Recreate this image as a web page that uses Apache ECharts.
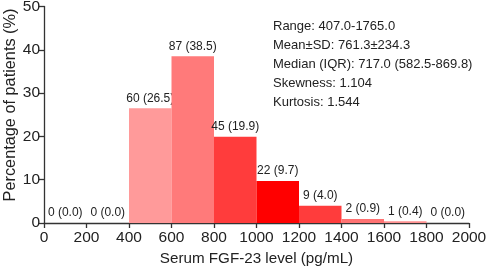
<!DOCTYPE html>
<html lang="en">

<head>
  <script src="https://cdn.jsdelivr.net/npm/echarts@6.0.0/dist/echarts.min.js"></script>
  <meta charset="UTF-8">
</head>

<body style="margin:0">
  <div id="histChart" style="width: 489px;height:270px;"></div>

  <script type="text/javascript">

    // bins of 200 pg/mL
    var binStarts = [0, 200, 400, 600, 800, 1000, 1200, 1400, 1600, 1800];
    var counts = [0, 0, 60, 87, 45, 22, 9, 2, 1, 0];
    var percents = [0.0, 0.0, 26.5, 38.5, 19.9, 9.7, 4.0, 0.9, 0.4, 0.0];
    var statLines = [
        'Range: 407.0-1765.0',
        'Mean\u00b1SD: 761.3\u00b1234.3',
        'Median (IQR): 717.0 (582.5-869.8)',
        'Skewness: 1.104',
        'Kurtosis: 1.544'
    ];

    var binWidth = 200;
    var barColors = ['#ff9a9a', '#ff9a9a', '#ff9a9a', '#ff7a7a', '#ff3c3c', '#ff0000', '#ff3c3c', '#ff7272', '#ff9090', '#ff9a9a'];
    var font = 'Liberation Sans, Arial, sans-serif';

    function createHistogram() {
        const chart = echarts.init(document.getElementById('histChart'));

        const seriesData = binStarts.map((s, i) => [s, s + binWidth, percents[i], counts[i]]);

        const renderBar = function (params, api) {
            const start = api.coord([api.value(0), 0]);
            const end = api.coord([api.value(1), api.value(2)]);
            const idx = params.dataIndex;
            const label = api.value(3) + ' (' + api.value(2).toFixed(1) + ')';
            return {
                type: 'group',
                children: [
                    {
                        type: 'rect',
                        shape: { x: start[0], y: end[1], width: end[0] - start[0], height: start[1] - end[1] },
                        style: { fill: barColors[idx] }
                    },
                    {
                        type: 'text',
                        style: {
                            text: label,
                            x: (start[0] + end[0]) / 2,
                            y: end[1] - 4,
                            align: 'center',
                            verticalAlign: 'bottom',
                            fill: '#222',
                            font: '12px ' + font
                        }
                    }
                ]
            };
        };

        const option = {
            animation: false,
            grid: { left: 44, right: 20, top: 6.5, bottom: 47, outerBoundsMode: 'none', containLabel: false },
            xAxis: {
                type: 'value',
                min: 0,
                max: 2000,
                interval: 200,
                name: 'Serum FGF-23 level (pg/mL)',
                nameLocation: 'middle',
                nameGap: 27,
                nameTextStyle: { fontSize: 15.2, color: '#222', fontFamily: font },
                axisLine: { show: true, lineStyle: { color: '#333', width: 1.3 } },
                axisTick: { show: true, length: 5, lineStyle: { color: '#333', width: 1.3 } },
                axisLabel: { fontSize: 15.5, color: '#222', fontFamily: font, margin: 7, formatter: v => String(v) },
                splitLine: { show: false }
            },
            yAxis: {
                type: 'value',
                min: 0,
                max: 50,
                interval: 10,
                axisLine: { show: true, lineStyle: { color: '#333', width: 1.3 } },
                axisTick: { show: true, length: 5, lineStyle: { color: '#333', width: 1.3 } },
                axisLabel: { fontSize: 15.5, color: '#222', fontFamily: font, margin: 4 },
                splitLine: { show: false }
            },
            graphic: [
                {
                    type: 'text',
                    x: 11,
                    y: 105,
                    rotation: Math.PI / 2,
                    style: {
                        text: 'Percentage of patients (%)',
                        font: '16.3px ' + font,
                        align: 'center',
                        verticalAlign: 'middle',
                        fill: '#222'
                    }
                },
                {
                    type: 'text',
                    left: 273,
                    top: 17,
                    style: {
                        text: statLines.join('\n'),
                        font: '13px ' + font,
                        lineHeight: 19,
                        fill: '#222'
                    }
                }
            ],
            series: [{
                type: 'custom',
                renderItem: renderBar,
                encode: { x: [0, 1], y: 2 },
                data: seriesData
            }]
        };

        chart.setOption(option);
    }
    createHistogram();
  </script>
</body>

</html>
